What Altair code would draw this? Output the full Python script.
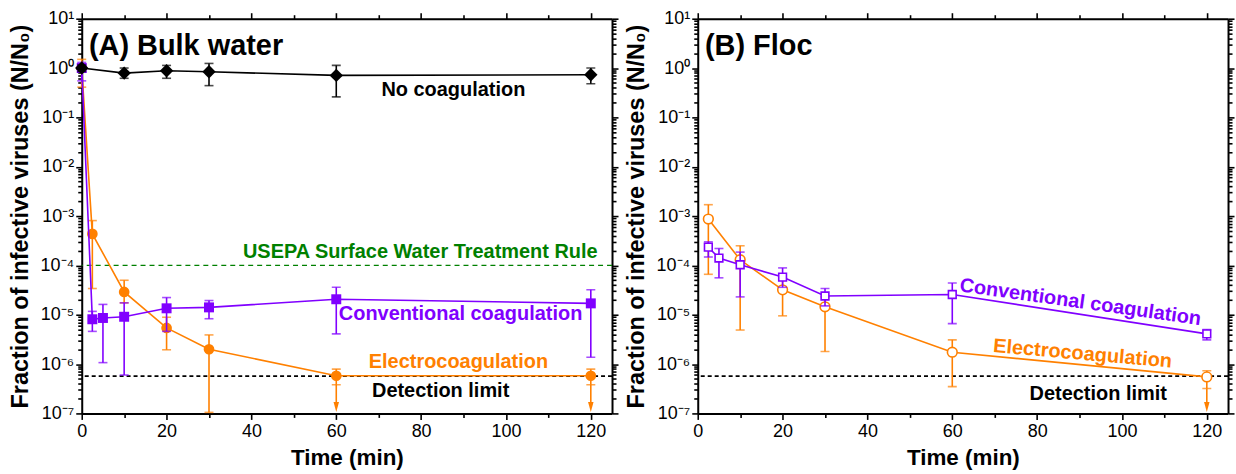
import altair as alt
import pandas as pd

FONT = "Liberation Sans"
ORANGE = "#ff8000"
PURPLE = "#8000ff"
GREEN = "#008000"
BLACK = "#000000"

# ---------------- (A) Bulk water ----------------
a_none_t = [0, 10, 20, 30, 60, 120]
a_none_y = [1.0, 0.79, 0.88, 0.84, 0.71, 0.73]
a_none_hi = [1.15, 1.0, 1.13, 1.24, 1.13, 1.0]
a_none_lo = [0.85, 0.62, 0.62, 0.44, 0.26, 0.48]

a_ec_t = [0, 2.5, 10, 20, 30, 60, 120]
a_ec_y = [1.0, 4.35e-4, 2.9e-5, 5.4e-6, 2.0e-6, 5.8e-7, 5.8e-7]
a_ec_hi = [1.5, 8.1e-4, 5.0e-5, 8.9e-6, 3.9e-6, 7.9e-7, 7.9e-7]
a_ec_lo = [0.41, 3.4e-5, 1.74e-5, 1.95e-6, 1.05e-7, 3.8e-7, 3.8e-7]
a_ec_arrow = [False, False, False, False, False, True, True]

a_cc_t = [0, 2.5, 5, 10, 20, 30, 60, 120]
a_cc_y = [1.0, 8.1e-6, 8.6e-6, 9.1e-6, 1.35e-5, 1.41e-5, 2.06e-5, 1.7e-5]
a_cc_hi = [1.3, 1.17e-5, 1.62e-5, 1.74e-5, 2.23e-5, 1.94e-5, 3.6e-5, 3.2e-5]
a_cc_lo = [0.55, 4.6e-6, 1.07e-6, 6.0e-7, 4.6e-6, 8.3e-6, 4.1e-6, 1.38e-6]

# ---------------- (B) Floc ----------------
b_ec_t = [2.5, 10, 20, 30, 60, 120]
b_ec_y = [8.7e-4, 1.30e-4, 3.2e-5, 1.45e-5, 1.74e-6, 5.5e-7]
b_ec_hi = [1.7e-3, 2.5e-4, 5.6e-5, 2.3e-5, 3.1e-6, 7.3e-7]
b_ec_lo = [6.6e-5, 4.9e-6, 9.5e-6, 1.8e-6, 3.5e-7, 3.2e-7]
b_ec_arrow = [False, False, False, False, False, True]

b_cc_t = [2.5, 5, 10, 20, 30, 60, 120]
b_cc_y = [2.34e-4, 1.41e-4, 1.03e-4, 5.8e-5, 2.4e-5, 2.57e-5, 4.1e-6]
b_cc_hi = [3.0e-4, 2.2e-4, 1.86e-4, 8.9e-5, 3.4e-5, 4.4e-5, 5.0e-6]
b_cc_lo = [1.48e-4, 5.6e-5, 2.3e-5, 3.6e-5, 1.51e-5, 6.6e-6, 3.1e-6]

detection_limit = 5.7e-7
usepa_rule = 1e-4
arrow_tip_level = 1.35e-7

# annotations: text, time, fraction, colour, angle, align
a_notes_text = ["No coagulation", "USEPA Surface Water Treatment Rule",
                "Conventional coagulation", "Electrocoagulation", "Detection limit"]
a_notes_t = [87.6, 121.6, 89.3, 88.8, 84.6]
a_notes_v = [0.267, 1.38e-4, 7.8e-6, 8.5e-7, 2.2e-7]
a_notes_color = [BLACK, GREEN, PURPLE, ORANGE, BLACK]
a_notes_angle = [0, 0, 0, 0, 0]
a_notes_align = ["center", "right", "center", "center", "center"]

b_notes_text = ["Conventional coagulation", "Electrocoagulation", "Detection limit"]
b_notes_t = [90.0, 90.6, 94.4]
b_notes_v = [1.36e-5, 1.22e-6, 1.9e-7]
b_notes_color = [PURPLE, ORANGE, BLACK]
b_notes_angle = [8, 5, 0]
b_notes_align = ["center", "center", "center"]

# axis ticks
x_major = [0, 20, 40, 60, 80, 100, 120]
x_minor = [10, 30, 50, 70, 90, 110]
y_major = [1e-7, 1e-6, 1e-5, 1e-4, 1e-3, 1e-2, 1e-1, 1e0, 1e1]
y_major_labels = ["10⁻⁷", "10⁻⁶", "10⁻⁵", "10⁻⁴", "10⁻³", "10⁻²", "10⁻¹", "10⁰", "10¹"]
y_minor = [m * d for d in y_major[:-1] for m in range(2, 10)]

X_TITLE = "Time (min)"
Y_TITLE = "Fraction of infective viruses (N/N₀)"

xs = alt.Scale(domain=[0, 125], nice=False, zero=False)
ys = alt.Scale(type="log", domain=[1e-7, 10], nice=False)

y_label_expr = " : ".join(
    f"datum.value == {v!r} ? '{l}'" for v, l in zip(y_major, y_major_labels)) + " : ''"
y_major_test = "indexof([" + ",".join(repr(v) for v in y_major) + "], datum.value) >= 0"
x_major_test = "datum.value % 20 == 0"

common_axis = dict(
    domainColor=BLACK, domainWidth=2, tickColor=BLACK, tickWidth=1.6,
    grid=False, labelFont=FONT, labelFontSize=18, labelColor=BLACK,
    labelFlush=False, labelOverlap=False,
    titleFont=FONT, titleFontWeight="bold", titleColor=BLACK,
)


def x_axis(orient, labels):
    kw = dict(common_axis)
    kw.update(orient=orient, values=x_major + x_minor,
              tickSize={"condition": {"test": x_major_test, "value": 6}, "value": 4})
    if labels:
        kw.update(labelExpr="datum.value % 20 == 0 ? datum.label : ''",
                  title=X_TITLE, titleFontSize=22.5, labelPadding=3, titlePadding=6)
    else:
        kw.update(labels=False, title="")
    return alt.Axis(**kw)


def y_axis(orient, labels):
    kw = dict(common_axis)
    kw.update(orient=orient, values=y_major + y_minor,
              tickSize={"condition": {"test": y_major_test, "value": 6}, "value": 4})
    if labels:
        kw.update(labelExpr=y_label_expr, title=Y_TITLE, titleFontSize=23.5,
                  labelPadding=2, titlePadding=8)
    else:
        kw.update(labels=False, title="")
    return alt.Axis(**kw)


def frame_layers():
    anchor = pd.DataFrame({"t": [0.0], "v": [1.0]})
    main = alt.Chart(anchor).mark_point(opacity=0).encode(
        x=alt.X("t:Q", scale=xs, axis=x_axis("bottom", True)),
        y=alt.Y("v:Q", scale=ys, axis=y_axis("left", True)),
    )
    mirror = alt.Chart(anchor).mark_point(opacity=0).encode(
        x=alt.X("t:Q", scale=xs, axis=x_axis("top", False)),
        y=alt.Y("v:Q", scale=ys, axis=y_axis("right", False)),
    )
    return [main, mirror]


def X(field):
    return alt.X(field, type="quantitative", scale=xs, axis=None)


def Y(field):
    return alt.Y(field, type="quantitative", scale=ys, axis=None)


def series_layers(t, y, lo, hi, color, shape, size, filled, arrow=None):
    if arrow is None:
        arrow = [False] * len(t)
    df = pd.DataFrame({"t": t, "y": y, "lo": lo, "hi": hi, "arrow": arrow})
    arr = df[df["arrow"]].copy()
    arr["tip"] = arrow_tip_level
    layers = [
        alt.Chart(df).mark_rule(color=color, strokeWidth=1.6).encode(
            x=X("t"), y=Y("lo"), y2="hi"),
        alt.Chart(df).mark_tick(color=color, orient="horizontal", size=9, thickness=1.6).encode(
            x=X("t"), y=Y("hi")),
        alt.Chart(df).mark_tick(color=color, orient="horizontal", size=9, thickness=1.6).encode(
            x=X("t"), y=Y("lo")),
        alt.Chart(df).mark_line(color=color, strokeWidth=1.6).encode(
            x=X("t"), y=Y("y")),
    ]
    if len(arr):
        layers += [
            alt.Chart(arr).mark_rule(color=color, strokeWidth=1.6).encode(
                x=X("t"), y=Y("tip"), y2="lo"),
            alt.Chart(arr).mark_point(
                shape="M-0.55,-1L0.55,-1L0,1Z", filled=True, color=color, size=100, opacity=1
            ).encode(x=X("t"), y=Y("tip")),
        ]
    if filled:
        pts = alt.Chart(df).mark_point(shape=shape, filled=True, color=color, size=size, opacity=1)
    else:
        pts = alt.Chart(df).mark_point(shape=shape, filled=False, color=color, fill="white",
                                       fillOpacity=1, strokeWidth=1.6, size=size, opacity=1)
    layers.append(pts.encode(x=X("t"), y=Y("y")))
    return layers


def notes_layer(text, t, v, color, angle, align):
    layers = []
    for s, tt, vv, c, a, al in zip(text, t, v, color, angle, align):
        df = pd.DataFrame({"t": [tt], "v": [vv], "s": [s]})
        kw = dict(font=FONT, fontSize=20, fontWeight="bold", color=c, align=al,
                  baseline="alphabetic")
        if a:
            kw["angle"] = a
        layers.append(alt.Chart(df).mark_text(**kw).encode(x=X("t"), y=Y("v"), text="s:N"))
    return layers


def hline(level, color, dash, width):
    df = pd.DataFrame({"v": [level]})
    return alt.Chart(df).mark_rule(color=color, strokeDash=dash, strokeWidth=width).encode(y=Y("v"))


def panel_title(text):
    df = pd.DataFrame({"t": [1.7], "v": [1.88], "s": [text]})
    return alt.Chart(df).mark_text(font=FONT, fontSize=29, fontWeight="bold", color=BLACK,
                                   align="left", baseline="alphabetic").encode(
        x=X("t"), y=Y("v"), text="s:N")


W, H = 532, 396

left_layers = frame_layers() + [
    hline(usepa_rule, GREEN, [5, 4], 1.2),
    hline(detection_limit, BLACK, [4, 3], 1.6),
]
left_layers += series_layers(a_ec_t, a_ec_y, a_ec_lo, a_ec_hi, ORANGE, "circle", 115, True, a_ec_arrow)
left_layers += series_layers(a_cc_t, a_cc_y, a_cc_lo, a_cc_hi, PURPLE, "square", 100, True)
left_layers += series_layers(a_none_t, a_none_y, a_none_lo, a_none_hi, BLACK, "diamond", 180, True)
left_layers += notes_layer(a_notes_text, a_notes_t, a_notes_v, a_notes_color, a_notes_angle, a_notes_align)
left_layers.append(panel_title("(A) Bulk water"))

right_layers = frame_layers() + [hline(detection_limit, BLACK, [4, 3], 1.6)]
right_layers += series_layers(b_ec_t, b_ec_y, b_ec_lo, b_ec_hi, ORANGE, "circle", 95, False, b_ec_arrow)
right_layers += series_layers(b_cc_t, b_cc_y, b_cc_lo, b_cc_hi, PURPLE, "square", 60, False)
right_layers += notes_layer(b_notes_text, b_notes_t, b_notes_v, b_notes_color, b_notes_angle, b_notes_align)
right_layers.append(panel_title("(B) Floc"))

left = alt.layer(*left_layers).resolve_axis(x="independent", y="independent").properties(width=W, height=H)
right = alt.layer(*right_layers).resolve_axis(x="independent", y="independent").properties(width=W, height=H)

chart = alt.hconcat(left, right, spacing=3).properties(
    padding={"left": 7, "top": 8, "right": 0, "bottom": 0}
).configure_view(stroke=None).configure(background="white")

chart.save("out.html", embed_options={"renderer": "svg", "actions": False})
